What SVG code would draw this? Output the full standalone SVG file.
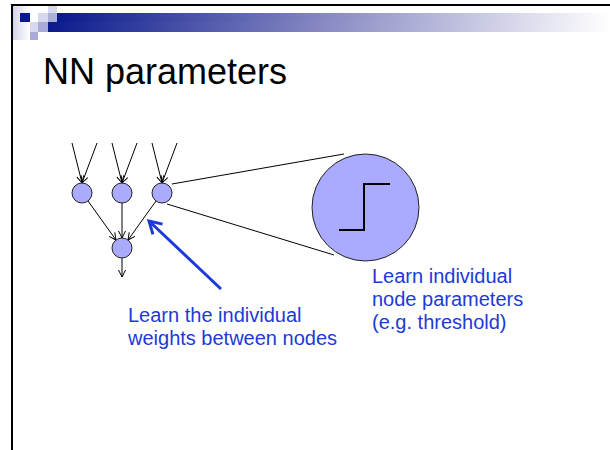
<svg xmlns="http://www.w3.org/2000/svg" width="610" height="450" viewBox="0 0 610 450">
<style>
.node{fill:#aaaaff;stroke:#222;stroke-width:1}
.edge{stroke:#000;stroke-width:1;fill:none}
.blue{fill:#1c3ad8;font-family:"Liberation Sans",Arial,sans-serif;font-size:20px}
.title{fill:#000;font-family:"Liberation Sans",Arial,sans-serif;font-size:36px}
</style>
<defs>
<linearGradient id="bar" x1="0" y1="0" x2="1" y2="0">
<stop offset="0" stop-color="#0a1a8c"/>
<stop offset="0.5" stop-color="#8a8cc4"/>
<stop offset="1" stop-color="#ffffff"/>
</linearGradient>
<linearGradient id="strip" x1="0" y1="0" x2="1" y2="0">
<stop offset="0" stop-color="#d4d4ea"/>
<stop offset="1" stop-color="#ffffff"/>
</linearGradient>
<marker id="ah" markerUnits="userSpaceOnUse" markerWidth="12" markerHeight="12" refX="8" refY="6" orient="auto" overflow="visible">
<path d="M1,2.5 L8,6 L1,9.5" fill="none" stroke="#000" stroke-width="1"/>
</marker>
<marker id="bh" markerUnits="userSpaceOnUse" markerWidth="20" markerHeight="20" refX="14" refY="10" orient="auto" overflow="visible">
<path d="M2,3 L14,10 L2,17" fill="none" stroke="#1c3ad8" stroke-width="3"/>
</marker>
</defs>
<rect width="610" height="450" fill="#fff"/>
<!-- header decoration -->
<rect x="13" y="6" width="17" height="34" fill="url(#strip)"/>
<rect x="57" y="13" width="553" height="9" fill="url(#bar)"/>
<rect x="48" y="22" width="562" height="10" fill="url(#bar)"/>
<rect x="20" y="13" width="10" height="9" fill="#0a1a8c"/>
<rect x="48" y="6" width="9" height="7" fill="#d8d8ec"/>
<rect x="38" y="13" width="10" height="9" fill="#d8d8ec"/>
<rect x="48" y="13" width="9" height="9" fill="#aab0d8"/>
<rect x="30" y="22" width="8" height="10" fill="#d8d8ec"/>
<rect x="38" y="22" width="10" height="10" fill="#aaaad8"/>
<rect x="30" y="32" width="8" height="8" fill="#aaaad8"/>
<rect x="11" y="4" width="599" height="2" fill="#000"/>
<rect x="11" y="4" width="2" height="446" fill="#000"/>
<text class="title" x="43" y="84">NN parameters</text>
<g id="connectors">
<line class="edge" x1="72" y1="143" x2="82" y2="183" marker-end="url(#ah)"/>
<line class="edge" x1="97" y1="143" x2="82" y2="183" marker-end="url(#ah)"/>
<line class="edge" x1="112" y1="143" x2="122" y2="183" marker-end="url(#ah)"/>
<line class="edge" x1="137" y1="143" x2="122" y2="183" marker-end="url(#ah)"/>
<line class="edge" x1="152" y1="143" x2="162" y2="183" marker-end="url(#ah)"/>
<line class="edge" x1="177" y1="143" x2="162" y2="183" marker-end="url(#ah)"/>
<line class="edge" x1="88" y1="201" x2="116" y2="240" marker-end="url(#ah)"/>
<line class="edge" x1="122" y1="203" x2="122" y2="238" marker-end="url(#ah)"/>
<line class="edge" x1="156" y1="201" x2="128" y2="240" marker-end="url(#ah)"/>
<line class="edge" x1="122" y1="258" x2="122" y2="277" marker-end="url(#ah)"/>
<line class="edge" x1="172" y1="184" x2="344" y2="154"/>
<line class="edge" x1="167" y1="204" x2="334" y2="255"/>
<line x1="221" y1="289" x2="149" y2="221" stroke="#1c3ad8" stroke-width="3" marker-end="url(#bh)"/>
</g>
<g id="n1"><circle class="node" cx="82" cy="193" r="10"/></g>
<g id="n2"><circle class="node" cx="122" cy="193" r="10"/></g>
<g id="n3"><circle class="node" cx="162" cy="193" r="10"/></g>
<g id="n4"><circle class="node" cx="122" cy="248" r="10"/></g>
<g id="zoom">
<circle class="node" cx="365.5" cy="207.5" r="53.5"/>
<path d="M339,230 H364 V184 H390" fill="none" stroke="#000" stroke-width="2"/>
</g>
<g id="label-weights">
<text class="blue" x="128" y="322">Learn the individual</text>
<text class="blue" x="128" y="345">weights between nodes</text>
</g>
<g id="label-node">
<text class="blue" x="372" y="283">Learn individual</text>
<text class="blue" x="372" y="306">node parameters</text>
<text class="blue" x="372" y="329">(e.g. threshold)</text>
</g>
</svg>
